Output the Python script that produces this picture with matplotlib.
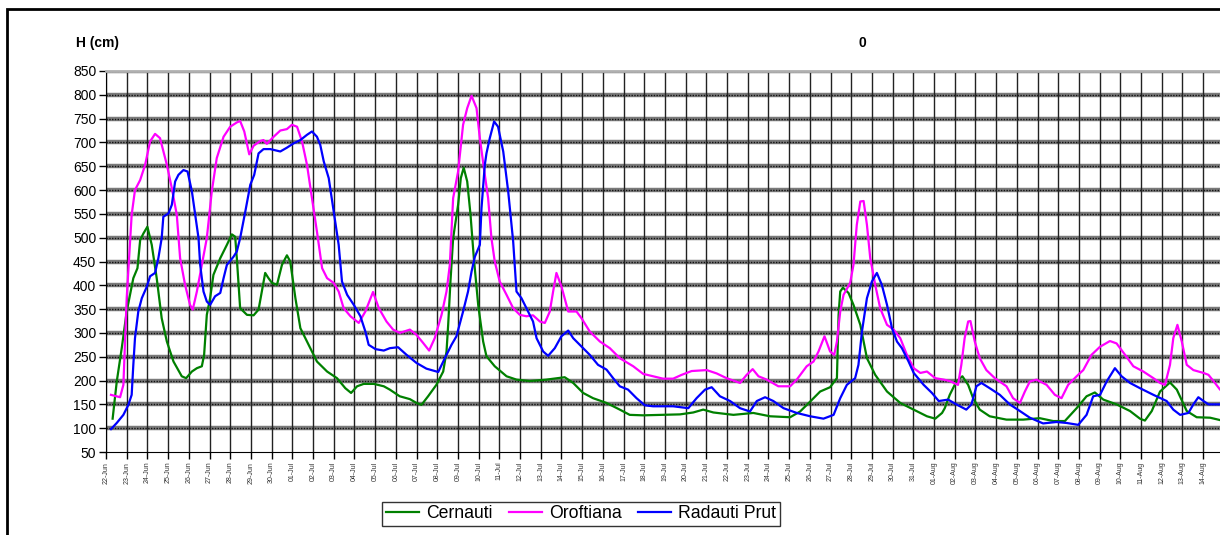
import matplotlib
matplotlib.use('Agg')
import matplotlib.pyplot as plt
from matplotlib.patches import Rectangle
import pandas as pd

plt.rcParams['font.family'] = ['Liberation Sans', 'DejaVu Sans']

# days since 22-Jun (00h), water level H (cm)
cern_day = [0.32, 0.52, 0.76, 1.00, 1.32, 1.52, 1.65, 1.81, 2.00, 2.21, 2.45, 2.69, 2.94, 3.26, 3.66, 3.87,
            4.15, 4.39, 4.63, 4.74, 4.87, 5.03, 5.19, 5.52, 5.84, 6.08, 6.24, 6.32, 6.48, 6.81, 7.13, 7.37,
            7.53, 7.69, 7.85, 8.02, 8.26, 8.50, 8.74, 8.90, 9.15, 9.39, 9.87, 10.19, 10.68, 11.16, 11.56, 11.84,
            12.13, 12.45, 12.94, 13.42, 13.71, 14.19, 14.68, 15.00, 15.24, 15.56, 15.96, 16.29, 16.45, 16.53,
            16.64, 16.77, 17.01, 17.14, 17.28, 17.45, 17.61, 17.77, 17.98, 18.22, 18.38, 18.78, 19.35, 19.83,
            20.47, 21.28, 22.16, 22.57, 23.05, 23.53, 24.18, 24.82, 25.30, 25.95, 26.91, 27.73, 28.37, 28.85,
            29.34, 30.31, 31.27, 32.08, 33.05, 33.53, 34.02, 34.50, 34.98, 35.31, 35.39, 35.47, 35.60, 35.87,
            36.11, 36.44, 36.76, 37.16, 37.73, 38.37, 39.02, 39.66, 40.06, 40.39, 40.52, 40.76, 41.08, 41.37,
            41.65, 41.89, 42.21, 42.69, 43.50, 44.31, 45.11, 45.76, 46.32, 46.89, 47.37, 47.77, 48.18, 48.82,
            49.47, 49.95, 50.19, 50.52, 50.92, 51.40, 51.73, 52.21, 52.69, 53.34, 53.82, 54.30]
cern_h = [120, 198, 268, 345, 415, 436, 495, 509, 523, 485, 415, 331, 282, 240, 209, 205,
          219, 226, 230, 254, 338, 373, 422, 457, 485, 507, 502, 457, 352, 338, 337, 349,
          387, 426, 415, 405, 401, 443, 463, 450, 373, 310, 268, 240, 219, 205, 184, 174,
          188, 193, 193, 188, 181, 167, 161, 153, 149, 167, 191, 219, 261, 317,
          408, 499, 569, 625, 647, 618, 548, 457, 359, 282, 251, 230, 209, 202,
          199, 202, 207, 195, 174, 163, 153, 139, 128, 127, 128, 129, 133, 139,
          133, 128, 132, 125, 123, 135, 156, 177, 186, 205, 338, 387, 395, 384,
          359, 317, 247, 212, 177, 153, 139, 125, 120, 132, 142, 170, 198, 209,
          191, 163, 139, 125, 118, 118, 121, 115, 115, 142, 167, 175, 160, 150,
          136, 120, 116, 136, 177, 196, 181, 136, 123, 122, 117, 115]

orof_day = [0.24, 0.68, 0.84, 1.00, 1.24, 1.40, 1.65, 1.89, 2.13, 2.37, 2.61, 2.94, 3.18, 3.42, 3.58, 3.82,
            4.06, 4.19, 4.39, 4.63, 4.87, 5.11, 5.35, 5.68, 6.00, 6.32, 6.48, 6.68, 6.92, 7.13, 7.45, 7.61,
            7.77, 8.10, 8.42, 8.74, 8.98, 9.23, 9.47, 9.71, 9.95, 10.19, 10.44, 10.68, 11.00, 11.24, 11.48,
            11.81, 12.21, 12.53, 12.90, 13.18, 13.55, 13.87, 14.19, 14.68, 15.00, 15.32, 15.61, 15.88, 16.21,
            16.45, 16.61, 16.69, 16.77, 17.01, 17.25, 17.45, 17.66, 17.90, 18.06, 18.30, 18.46, 18.62, 18.78,
            19.02, 19.35, 19.67, 19.99, 20.31, 20.63, 20.96, 21.20, 21.44, 21.60, 21.76, 22.00, 22.33, 22.73,
            22.97, 23.37, 23.86, 24.34, 24.82, 25.47, 25.95, 26.43, 26.91, 27.40, 27.81, 28.29, 29.02, 29.50,
            29.98, 30.63, 30.95, 31.24, 31.52, 31.92, 32.48, 33.05, 33.37, 33.85, 34.18, 34.42, 34.71, 34.98,
            35.18, 35.31, 35.47, 35.63, 35.95, 36.11, 36.27, 36.44, 36.60, 36.76, 36.92, 37.16, 37.40, 37.73,
            38.05, 38.37, 38.69, 39.02, 39.34, 39.66, 40.06, 40.47, 40.76, 41.16, 41.32, 41.48, 41.65, 41.76,
            41.97, 42.21, 42.53, 42.94, 43.50, 43.82, 44.15, 44.39, 44.63, 44.95, 45.44, 45.84, 46.16, 46.48,
            46.89, 47.21, 47.61, 48.02, 48.50, 48.82, 49.23, 49.63, 50.11, 50.60, 50.92, 51.16, 51.40, 51.56,
            51.76, 51.97, 52.21, 52.53, 53.02, 53.26, 53.50, 53.82, 54.30]
orof_h = [170, 165, 191, 373, 548, 600, 621, 653, 702, 718, 709, 653, 604, 548, 457, 401,
          359, 349, 387, 443, 499, 597, 667, 712, 733, 742, 745, 723, 675, 693, 703, 705,
          697, 712, 725, 728, 737, 733, 702, 653, 583, 513, 436, 415, 405, 387, 352,
          335, 321, 345, 386, 352, 324, 307, 300, 307, 296, 279, 263, 289, 338,
          387, 443, 513, 583, 639, 737, 772, 798, 772, 709, 632, 583, 499, 450,
          408, 380, 352, 338, 335, 337, 324, 321, 345, 387, 426, 398, 345, 345,
          331, 303, 282, 268, 247, 230, 214, 209, 204, 204, 212, 220, 222, 215,
          205, 195, 212, 224, 209, 202, 188, 188, 202, 230, 240, 261, 293, 261,
          254, 282, 345, 380, 405, 443, 527, 576, 577, 527, 457, 401, 352, 317,
          307, 289, 254, 226, 216, 219, 205, 202, 199, 191, 233, 289, 324, 325,
          282, 247, 222, 205, 188, 163, 153, 177, 198, 202, 191, 170, 163, 191,
          209, 222, 254, 271, 283, 278, 254, 230, 219, 205, 195, 191, 233, 289,
          317, 282, 233, 222, 216, 212, 199, 181, 165]

rad_day = [0.24, 0.52, 0.84, 1.08, 1.24, 1.32, 1.40, 1.56, 1.73, 1.97, 2.13, 2.37, 2.53, 2.69, 2.77, 3.02,
           3.18, 3.34, 3.50, 3.74, 3.94, 4.15, 4.31, 4.47, 4.55, 4.71, 4.87, 5.03, 5.27, 5.52, 5.68, 5.84,
           6.16, 6.32, 6.48, 6.73, 6.97, 7.16, 7.37, 7.61, 7.94, 8.42, 8.74, 9.06, 9.39, 9.71, 9.95, 10.19,
           10.35, 10.52, 10.76, 11.00, 11.24, 11.40, 11.65, 11.97, 12.29, 12.53, 12.69, 13.02, 13.42, 13.71,
           14.11, 14.52, 15.00, 15.48, 16.05, 16.37, 16.69, 16.93, 17.25, 17.49, 17.66, 17.82, 18.06, 18.14,
           18.30, 18.38, 18.54, 18.75, 18.94, 19.19, 19.43, 19.67, 19.83, 20.07, 20.31, 20.63, 20.80, 21.12,
           21.36, 21.68, 22.00, 22.33, 22.57, 22.89, 23.37, 23.77, 24.18, 24.50, 24.82, 25.22, 25.63, 26.03,
           26.43, 26.91, 27.40, 28.13, 28.53, 28.94, 29.26, 29.66, 30.15, 30.63, 31.11, 31.44, 31.84, 32.24,
           32.73, 33.37, 34.02, 34.66, 35.15, 35.47, 35.79, 36.19, 36.35, 36.52, 36.76, 37.00, 37.24, 37.48,
           37.73, 37.97, 38.21, 38.45, 38.77, 39.02, 39.50, 39.90, 40.23, 40.55, 40.68, 41.08, 41.56, 41.81,
           42.05, 42.29, 42.69, 43.18, 43.66, 44.15, 44.63, 45.27, 45.92, 46.40, 46.97, 47.37, 47.69, 48.02,
           48.34, 48.74, 49.06, 49.47, 49.95, 50.60, 51.24, 51.56, 51.89, 52.29, 52.53, 52.77, 53.02, 53.26,
           53.82, 54.30]
rad_h = [98, 111, 128, 149, 170, 233, 289, 345, 373, 397, 419, 426, 457, 499, 544, 551,
         569, 618, 632, 642, 639, 597, 548, 499, 443, 387, 366, 359, 377, 384, 415, 443,
         460, 471, 499, 555, 611, 632, 677, 686, 686, 681, 689, 698, 705, 716, 723, 712,
         695, 660, 625, 555, 485, 408, 380, 359, 335, 303, 275, 266, 263, 268,
         270, 254, 237, 225, 218, 247, 275, 293, 345, 387, 429, 460, 485, 562,
         653, 677, 709, 744, 733, 681, 597, 492, 387, 373, 352, 324, 289, 261,
         252, 268, 293, 305, 289, 275, 254, 233, 223, 205, 188, 181, 163, 148,
         146, 146, 146, 142, 163, 181, 186, 167, 157, 142, 135, 157, 165, 157,
         142, 132, 125, 120, 128, 163, 191, 205, 233, 303, 373, 408, 426, 401,
         359, 310, 282, 268, 240, 216, 191, 174, 157, 159, 160, 150, 139, 150,
         188, 195, 184, 170, 150, 136, 122, 110, 113, 111, 107, 128, 167, 170,
         198, 226, 209, 195, 184, 170, 157, 139, 128, 132, 150, 165, 157, 150,
         150, 150]

date_labels = pd.date_range('2008-06-22', periods=54, freq='D').strftime('%d-%b')
y_ticks = list(range(50, 851, 50))

fig = plt.figure(figsize=(12.2, 5.35), dpi=100)
fig.patches.append(Rectangle((7/1220, -0.1), 1.2, 1.1 - 9/535, transform=fig.transFigure,
                             fill=False, edgecolor='black', linewidth=2, zorder=0))

# axes runs past the right edge, like the cropped original
ax = fig.add_axes([106/1220, 1 - 452/535, 56*20.7/1220, 381/535])

for yv in y_ticks[1:]:
    ax.axhline(yv, color='#7a7a7a', lw=3.2, zorder=1)
    ax.axhline(yv, color='#111111', lw=1.0, ls=(0, (1, 1)), zorder=1)
ax.set_xticks(range(len(date_labels)))
ax.grid(axis='x', color='#222222', lw=1.0, zorder=1)
ax.axvline(54, color='#222222', lw=1.0, zorder=1)

ax.plot(cern_day, cern_h, color='#008000', lw=1.6, label='Cernauti', zorder=3)
ax.plot(orof_day, orof_h, color='#ff00ff', lw=1.6, label='Oroftiana', zorder=3)
ax.plot(rad_day, rad_h, color='#0000ff', lw=1.6, label='Radauti Prut', zorder=3)

ax.set_xlim(0, 56)
ax.set_ylim(50, 850)
ax.set_yticks(y_ticks)
ax.set_yticklabels([str(v) for v in y_ticks], fontsize=10)
ax.set_xticklabels(date_labels, rotation=90, fontsize=5, color='#333333')
ax.tick_params(axis='y', length=5, width=1, pad=2)
ax.tick_params(axis='x', length=5, width=1, pad=2)

ax.spines['right'].set_visible(False)
ax.spines['top'].set_color('#b0b0b0')
ax.spines['top'].set_linewidth(2)
ax.spines['left'].set_color('black')
ax.spines['bottom'].set_color('black')

fig.text(97/1220, 1 - 43/535, 'H (cm)', fontsize=10, fontweight='bold', ha='center', va='center')
fig.text(862/1220, 1 - 43/535, '0', fontsize=10, fontweight='bold', ha='center', va='center')

leg = fig.legend(loc='center', bbox_to_anchor=(581/1220, 1 - 514/535), ncol=3, fontsize=12.7,
                 frameon=True, fancybox=False, handlelength=1.9, handletextpad=0.4,
                 columnspacing=0.9, borderpad=0.2, borderaxespad=0)
leg.get_frame().set_edgecolor('black')
leg.get_frame().set_linewidth(1.0)

fig.savefig('out.png', dpi=100)
